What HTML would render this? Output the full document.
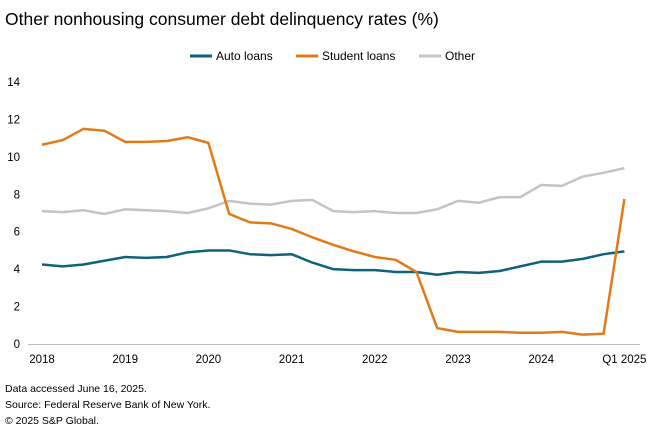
<!DOCTYPE html>
<html><head><meta charset="utf-8"><style>
body{margin:0;background:#fff;font-family:"Liberation Sans",sans-serif;}
</style></head><body>
<svg width="660" height="439" xmlns="http://www.w3.org/2000/svg" font-family="Liberation Sans, sans-serif">
<text x="5" y="25" font-size="17.5" fill="#000">Other nonhousing consumer debt delinquency rates (%)</text>
<g font-size="12" fill="#000">
<line x1="190" y1="56" x2="212" y2="56" stroke="#0f6378" stroke-width="3"/><text x="216" y="60">Auto loans</text>
<line x1="296" y1="56" x2="318" y2="56" stroke="#e07b18" stroke-width="3"/><text x="322" y="60">Student loans</text>
<line x1="419" y1="56" x2="441" y2="56" stroke="#c4c4c4" stroke-width="3"/><text x="445" y="60">Other</text>
</g>
<line x1="28" y1="344.5" x2="640" y2="344.5" stroke="#bbb" stroke-width="1"/>
<g font-size="11.5" fill="#000" text-anchor="end" id="y"></g>
<g font-size="11.5" fill="#000" text-anchor="middle" id="x"></g>
<g fill="none" stroke-width="2.5" stroke-linejoin="round" id="s"></g>
<g font-size="10.5" fill="#000">
<text x="5" y="392">Data accessed June 16, 2025.</text>
<text x="5" y="408">Source: Federal Reserve Bank of New York.</text>
<text x="5" y="424">© 2025 S&amp;P Global.</text>
</g>
</svg>
<script>
const ns="http://www.w3.org/2000/svg";
const Y=v=>344-v*18.71, X=i=>42+i*20.8;
const yg=document.getElementById('y');
for(let v=0;v<=14;v+=2){const t=document.createElementNS(ns,'text');t.setAttribute('x',20);t.setAttribute('y',Y(v)+4);t.textContent=v;yg.appendChild(t);}
const xg=document.getElementById('x');
['2018','2019','2020','2021','2022','2023','2024','Q1 2025'].forEach((l,k)=>{const t=document.createElementNS(ns,'text');t.setAttribute('x',X(k*4)+(k==7?0:0));t.setAttribute('y',363);t.textContent=l;xg.appendChild(t);});
const d={
'#c4c4c4':[7.1,7.05,7.15,6.95,7.2,7.15,7.1,7.0,7.25,7.65,7.5,7.45,7.65,7.7,7.1,7.05,7.1,7.0,7.0,7.2,7.65,7.55,7.85,7.85,8.5,8.45,8.95,9.15,9.4],
'#0f6378':[4.25,4.15,4.25,4.45,4.65,4.6,4.65,4.9,5.0,5.0,4.8,4.75,4.8,4.35,4.0,3.95,3.95,3.85,3.85,3.7,3.85,3.8,3.9,4.15,4.4,4.4,4.55,4.8,4.95],
'#e07b18':[10.65,10.9,11.5,11.4,10.8,10.8,10.85,11.05,10.75,6.95,6.5,6.45,6.15,5.7,5.3,4.95,4.65,4.5,3.85,0.85,0.65,0.65,0.65,0.6,0.6,0.65,0.5,0.55,7.75]};
const sg=document.getElementById('s');
for(const c in d){const p=document.createElementNS(ns,'polyline');p.setAttribute('stroke',c);p.setAttribute('points',d[c].map((v,i)=>X(i)+','+Y(v)).join(' '));sg.appendChild(p);}
</script>
</body></html>
